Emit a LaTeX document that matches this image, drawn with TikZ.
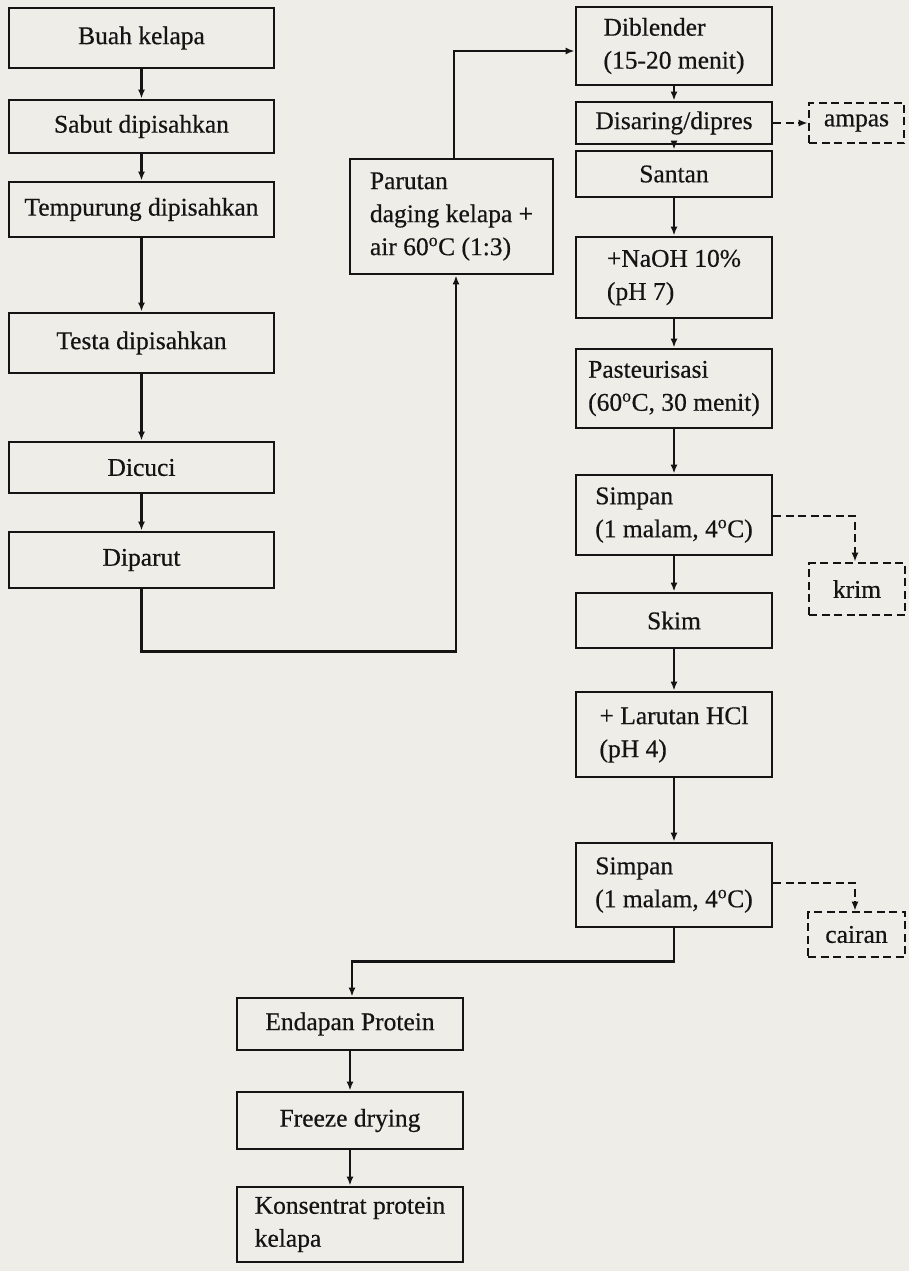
\documentclass[tikz,border=0pt]{standalone}
\usepackage{fontspec}
\setmainfont{Liberation Serif}[FakeBold=0.5]
\usetikzlibrary{arrows.meta}
\definecolor{paper}{RGB}{238,237,231}
\definecolor{ink}{RGB}{20,20,20}
\begin{document}
\begin{tikzpicture}[x=1pt,y=-1pt,
  font=\fontsize{25.5}{33}\selectfont,
  box/.style={draw=ink, line width=2.8pt, align=left, inner sep=0pt, text=ink},
  dbox/.style={box, line width=2.6pt, dash pattern=on 8pt off 4.5pt},
  arr/.style={draw=ink, line width=2.3pt, -{Latex[length=9pt,width=7pt]}},
  darr/.style={arr, line width=2.4pt, dash pattern=on 8pt off 4.5pt},
  lcol/.style={box, minimum width=265pt},
  rcol/.style={box, minimum width=196pt},
  bcol/.style={box, minimum width=226pt}
]
% paper and page frame
\fill[paper] (0,0) rectangle (909,1271);
\useasboundingbox (0,0) rectangle (909,1271);

% left column: preparing the coconut
\node[lcol, minimum height=60pt] (buah)  at (141.5,38)    {Buah kelapa};
\node[lcol, minimum height=53pt] (sabut) at (141.5,126.5) {Sabut dipisahkan};
\node[lcol, minimum height=55pt] (temp)  at (141.5,209.5) {Tempurung dipisahkan};
\node[lcol, minimum height=60pt] (testa) at (141.5,343)   {Testa dipisahkan};
\node[lcol, minimum height=51pt] (cuci)  at (141.5,467.5) {Dicuci};
\node[lcol, minimum height=56pt] (parut) at (141.5,560)   {Diparut};

% grated meat with hot water
\node[box, minimum width=203pt, minimum height=115pt] (parutan) at (451.5,216.5)
  {Parutan\\daging kelapa +\\air 60\textsuperscript{o}C (1:3)};

% right column: milk extraction and precipitation
\node[rcol, minimum height=78pt] (blend)  at (674,46)    {Diblender\\(15-20 menit)};
\node[rcol, minimum height=42pt] (saring) at (674,123)   {Disaring/dipres};
\node[rcol, minimum height=46pt] (santan) at (674,174)   {Santan};
\node[rcol, minimum height=81pt] (naoh)   at (674,277.5) {+NaOH 10\%\\(pH 7)};
\node[rcol, minimum height=79pt] (past)   at (674,388.5) {Pasteurisasi\\(60\textsuperscript{o}C, 30 menit)};
\node[rcol, minimum height=80pt] (simpA)  at (674,515)   {Simpan\\(1 malam, 4\textsuperscript{o}C)};
\node[rcol, minimum height=55pt] (skim)   at (674,620.5) {Skim};
\node[rcol, minimum height=85pt] (hcl)    at (674,734.5) {+ Larutan HCl\\(pH 4)};
\node[rcol, minimum height=84pt] (simpB)  at (674,885)   {Simpan\\(1 malam, 4\textsuperscript{o}C)};

% side products
\node[dbox, minimum width=95pt, minimum height=40pt] (ampas)  at (856.5,123)   {ampas};
\node[dbox, minimum width=96pt, minimum height=52pt] (krim)   at (857,589)     {krim};
\node[dbox, minimum width=97pt, minimum height=45pt] (cairan) at (856.5,934.5) {cairan};

% bottom column: drying the protein
\node[bcol, minimum height=52pt] (endap)  at (350,1024)   {Endapan Protein};
\node[bcol, minimum height=57pt] (freeze) at (350,1120.5) {Freeze drying};
\node[bcol, minimum height=75pt] (kons)   at (350,1224.5) {Konsentrat protein\\kelapa};

% connectors
\draw[arr] (buah) -- (sabut);
\draw[arr] (sabut) -- (temp);
\draw[arr] (temp) -- (testa);
\draw[arr] (testa) -- (cuci);
\draw[arr] (cuci) -- (parut);
\draw[arr] (parut.south) -- ++(0,62) -| ([xshift=4.5pt]parutan.south);
\draw[arr] ([xshift=2.5pt]parutan.north) |- ([yshift=-5pt]blend.west);
\draw[arr] (blend) -- (saring);
\draw[arr] (saring) -- (santan);
\draw[arr] (santan) -- (naoh);
\draw[arr] (naoh) -- (past);
\draw[arr] (past) -- (simpA);
\draw[arr] (simpA) -- (skim);
\draw[arr] (skim) -- (hcl);
\draw[arr] (hcl) -- (simpB);
\draw[arr] (simpB.south) -- ++(0,33) -| ([xshift=2pt]endap.north);
\draw[arr] (endap) -- (freeze);
\draw[arr] (freeze) -- (kons);
\draw[darr] (saring) -- (ampas);
\draw[darr] ([yshift=-1pt]simpA.east) -| ([xshift=-2pt]krim.north);
\draw[darr] ([yshift=2pt]simpB.east) -| ([xshift=-1.5pt]cairan.north);
\end{tikzpicture}
\end{document}
